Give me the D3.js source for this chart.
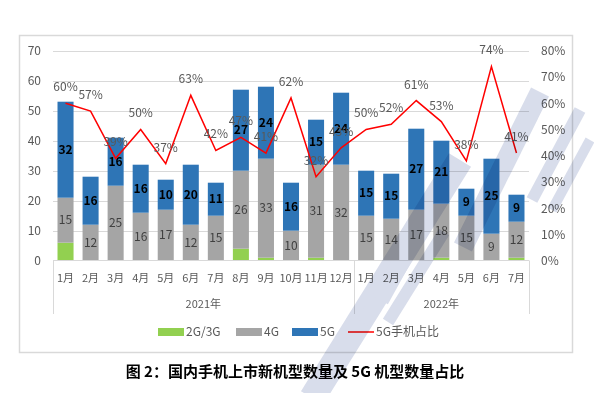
<!DOCTYPE html>
<html lang="zh">
<head>
<meta charset="UTF-8">
<title>国内手机上市新机型数量</title>
<script src="https://d3js.org/d3.v7.min.js"></script>
<style>
  body { margin: 0; background: #fff; }
  text { font-family: "Noto Sans CJK SC", "DejaVu Sans", sans-serif; }
</style>
</head>
<body>
<svg id="chart" width="594" height="393"></svg>
<script>
  // data
  const months = ["1月","2月","3月","4月","5月","6月","7月","8月","9月","10月","11月","12月",
                  "1月","2月","3月","4月","5月","6月","7月"];
  const years = [{ label: "2021年", from: 0, to: 12 }, { label: "2022年", from: 12, to: 19 }];
  const g23 = [6,0,0,0,0,0,0,4,1,0,1,0, 0,0,0,1,0,0,1];
  const g4  = [15,12,25,16,17,12,15,26,33,10,31,32, 15,14,17,18,15,9,12];
  const g5  = [32,16,16,16,10,20,11,27,24,16,15,24, 15,15,27,21,9,25,9];
  const share = [60,57,39,50,37,63,42,47,41,62,32,43, 50,52,61,53,38,74,41];
  const leftTicks = [0,10,20,30,40,50,60,70];
  const rightTicks = [0,10,20,30,40,50,60,70,80];

  // rough watermark strokes in the background of the scanned page
  const watermark = [
    [312, 398, 460, 160, 26],
    [362, 322, 418, 232, 12],
    [388, 322, 444, 232, 12],
    [380, 300, 457, 160, 18],
    [463, 247, 540, 92, 20],
    [532, 200, 580, 110, 12],
    [552, 210, 590, 140, 10]
  ];

  const svg = d3.select("#chart");
  const plotL = 53, plotR = 529, plotT = 50.7, plotB = 260.7;

  // frame
  svg.append("rect").attr("x", 19.5).attr("y", 35.5).attr("width", 553).attr("height", 317)
    .attr("fill", "#fff").attr("stroke", "#d9d9d9").attr("stroke-width", 1.5);

  const x = d3.scaleBand().domain(d3.range(months.length)).range([plotL, plotR]).paddingInner(0.36).paddingOuter(0.18);
  const y = d3.scaleLinear().domain([0, 70]).range([plotB, plotT]);
  const y2 = d3.scaleLinear().domain([0, 80]).range([plotB, plotT]);

  // gridlines
  svg.append("g").selectAll("line").data(leftTicks.slice(1)).join("line")
    .attr("x1", plotL).attr("x2", plotR)
    .attr("y1", d => Math.round(y(d)) + 0.5).attr("y2", d => Math.round(y(d)) + 0.5)
    .attr("stroke", "#d9d9d9");

  // left axis labels
  const yAxis = d3.axisLeft(y).tickValues(leftTicks).tickSize(0).tickPadding(0);
  svg.append("g").attr("transform", "translate(41,0)").call(yAxis)
    .call(g => g.select(".domain").remove())
    .selectAll("text").attr("font-size", 12).attr("fill", "#595959")
    .attr("font-family", "\"Noto Sans CJK SC\", sans-serif");

  // right axis labels
  const yAxis2 = d3.axisRight(y2).tickValues(rightTicks).tickSize(0).tickPadding(0).tickFormat(d => d + "%");
  svg.append("g").attr("transform", "translate(541,0)").call(yAxis2)
    .call(g => g.select(".domain").remove())
    .selectAll("text").attr("font-size", 12).attr("fill", "#595959")
    .attr("font-family", "\"Noto Sans CJK SC\", sans-serif");

  // stacked bars
  const rows = months.map((m, i) => ({ i, g23: g23[i], g4: g4[i], g5: g5[i] }));
  const stack = d3.stack().keys(["g23", "g4", "g5"])(rows);
  const colors = { g23: "#92d050", g4: "#a5a5a5", g5: "#2e75b6" };

  svg.append("g").selectAll("g").data(stack).join("g")
    .attr("fill", s => colors[s.key])
    .selectAll("rect").data(s => s).join("rect")
    .attr("x", d => x(d.data.i))
    .attr("width", x.bandwidth())
    .attr("y", d => y(d[1]))
    .attr("height", d => y(d[0]) - y(d[1]));

  // bar labels
  const lab = svg.append("g").attr("text-anchor", "middle").attr("font-size", 12);
  lab.selectAll("text.l4").data(rows).join("text").attr("class", "l4")
    .attr("x", d => x(d.i) + x.bandwidth() / 2)
    .attr("y", d => y(d.g23 + d.g4 / 2)).attr("dy", "0.35em")
    .attr("fill", "#404040").text(d => d.g4);
  lab.selectAll("text.l5").data(rows).join("text").attr("class", "l5")
    .attr("x", d => x(d.i) + x.bandwidth() / 2)
    .attr("y", d => y(d.g23 + d.g4 + d.g5 / 2)).attr("dy", "0.35em")
    .attr("font-weight", "bold").attr("fill", "#000").text(d => d.g5);

  // category axis
  const axisG = svg.append("g").attr("stroke", "#d9d9d9");
  axisG.append("line").attr("x1", plotL).attr("x2", plotR).attr("y1", 260.5).attr("y2", 260.5);
  [0, 12, 19].forEach(k => {
    const xx = Math.round(plotL + k * x.step()) + 0.5;
    axisG.append("line").attr("x1", xx).attr("x2", xx).attr("y1", 260.5).attr("y2", 314);
  });
  svg.append("g").selectAll("text").data(months).join("text")
    .attr("x", (d, i) => x(i) + x.bandwidth() / 2).attr("y", 282)
    .attr("text-anchor", "middle").attr("font-size", 11).attr("fill", "#595959")
    .text(d => d);
  svg.append("g").selectAll("text").data(years).join("text")
    .attr("x", d => (x(d.from) + x(d.to - 1) + x.bandwidth()) / 2).attr("y", 308)
    .attr("text-anchor", "middle").attr("font-size", 11).attr("fill", "#595959")
    .text(d => d.label);

  // share line
  const cx = i => x(i) + x.bandwidth() / 2;
  svg.append("path").datum(share)
    .attr("fill", "none").attr("stroke", "#ff0000").attr("stroke-width", 1.5)
    .attr("d", d3.line().x((d, i) => cx(i)).y(d => y2(d)));
  svg.append("g").selectAll("text").data(share).join("text")
    .attr("x", (d, i) => cx(i)).attr("y", d => y2(d) - 12)
    .attr("text-anchor", "middle").attr("font-size", 12).attr("fill", "#595959")
    .text(d => d + "%");

  // legend
  const legend = [
    { name: "2G/3G", color: "#92d050", x: 158, type: "box" },
    { name: "4G", color: "#a5a5a5", x: 236, type: "box" },
    { name: "5G", color: "#2e75b6", x: 292, type: "box" },
    { name: "5G手机占比", color: "#ff0000", x: 348, type: "line" }
  ];
  const lg = svg.append("g").selectAll("g").data(legend).join("g")
    .attr("transform", d => `translate(${d.x},332)`);
  lg.filter(d => d.type === "box").append("rect")
    .attr("y", -4).attr("width", 26).attr("height", 8).attr("fill", d => d.color);
  lg.filter(d => d.type === "line").append("line")
    .attr("x1", 0).attr("x2", 26).attr("stroke", d => d.color).attr("stroke-width", 1.5);
  lg.append("text").attr("x", 28).attr("dy", "0.35em").attr("font-size", 12)
    .attr("fill", "#595959").text(d => d.name);

  // caption
  svg.append("text").attr("x", 295).attr("y", 377).attr("text-anchor", "middle")
    .attr("font-size", 15).attr("font-weight", "bold").attr("fill", "#000")
    .text("图 2：国内手机上市新机型数量及 5G 机型数量占比");

  // watermark overlay
  svg.append("g").style("mix-blend-mode", "multiply").attr("opacity", 0.35)
    .selectAll("line").data(watermark).join("line")
    .attr("x1", d => d[0]).attr("y1", d => d[1]).attr("x2", d => d[2]).attr("y2", d => d[3])
    .attr("stroke", "#8f9cc4").attr("stroke-width", d => d[4]);
</script>
</body>
</html>
